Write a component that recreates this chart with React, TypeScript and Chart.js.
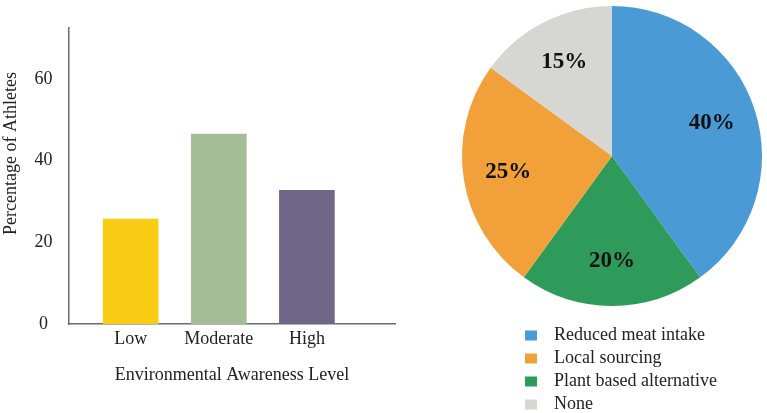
import React, { useEffect, useRef } from 'react';
import { Chart, registerables } from 'chart.js';

Chart.register(...registerables);

// ---- Bar chart data ----
const awarenessLevels = ['Low', 'Moderate', 'High'];
const athletePercent = [25.7, 46.5, 32.7];
const barColors = ['#F9CD16', '#A3BE97', '#6F6688'];
const yTickValues = [0, 20, 40, 60];

// ---- Pie chart data (clockwise from 12 o'clock) ----
const practiceLabels = ['Reduced meat intake', 'Plant based alternative', 'Local sourcing', 'None'];
const practiceShares = [40, 20, 25, 15];
const practiceColors = ['#4A9AD5', '#2E9B5B', '#F2A13A', '#D6D6D2'];
const legendOrder = ['Reduced meat intake', 'Local sourcing', 'Plant based alternative', 'None'];

const SERIF = '"Liberation Serif", "Times New Roman", Times, serif';
const TEXT = '#222222';
const AXIS = '#6b6b6b';

const yTitlePlugin = {
  id: 'yTitle',
  afterDraw(chart: any) {
    const ctx = chart.ctx;
    ctx.save();
    ctx.translate(15.5, 153.5);
    ctx.rotate(-Math.PI / 2);
    ctx.font = `18px ${SERIF}`;
    ctx.fillStyle = TEXT;
    ctx.textAlign = 'center';
    ctx.textBaseline = 'alphabetic';
    ctx.fillText('Percentage of Athletes', 0, 0);
    ctx.restore();
  },
};

const sliceLabelPlugin = {
  id: 'sliceLabels',
  afterDatasetsDraw(chart: any) {
    const ctx = chart.ctx;
    const meta = chart.getDatasetMeta(0);
    const values = chart.data.datasets[0].data;
    ctx.save();
    ctx.font = `bold 23px ${SERIF}`;
    ctx.fillStyle = '#111111';
    ctx.textAlign = 'center';
    ctx.textBaseline = 'middle';
    meta.data.forEach((arc: any, i: number) => {
      const p = arc.getProps(['x', 'y', 'startAngle', 'endAngle', 'outerRadius'], true);
      const mid = (p.startAngle + p.endAngle) / 2;
      const r = p.outerRadius * 0.7;
      ctx.fillText(`${values[i]}%`, p.x + Math.cos(mid) * r, p.y + Math.sin(mid) * r);
    });
    ctx.restore();
  },
};

const pieLegendPlugin = {
  id: 'pieLegend',
  afterDraw(chart: any) {
    const ctx = chart.ctx;
    const labels: string[] = chart.data.labels;
    const colors: string[] = chart.data.datasets[0].backgroundColor;
    ctx.save();
    ctx.font = `18px ${SERIF}`;
    ctx.textAlign = 'left';
    ctx.textBaseline = 'alphabetic';
    legendOrder.forEach((name, row) => {
      const idx = labels.indexOf(name);
      const baseline = 340 + row * 23;
      ctx.fillStyle = colors[idx];
      ctx.fillRect(85, baseline - 9.5, 12, 10);
      ctx.fillStyle = TEXT;
      ctx.fillText(name, 114, baseline);
    });
    ctx.restore();
  },
};

export default function App() {
  const barRef = useRef<HTMLCanvasElement>(null);
  const pieRef = useRef<HTMLCanvasElement>(null);

  useEffect(() => {
    const bar = new Chart(barRef.current as HTMLCanvasElement, {
      type: 'bar',
      data: {
        datasets: [
          {
            data: athletePercent.map((v, i) => ({ x: i, y: v })),
            backgroundColor: barColors,
            borderWidth: 0,
            barThickness: 55,
          },
        ],
      },
      options: {
        animation: false,
        responsive: false,
        devicePixelRatio: 1,
        layout: { padding: { left: 0, top: 24, right: 5, bottom: 0 } },
        plugins: { legend: { display: false }, tooltip: { enabled: false } },
        scales: {
          x: {
            type: 'linear',
            min: -0.7,
            max: 3,
            offset: false,
            grid: { display: false, drawTicks: false, offset: false },
            border: { display: true, color: AXIS, width: 1.5 },
            ticks: {
              stepSize: 1,
              includeBounds: false,
              autoSkip: false,
              maxRotation: 0,
              padding: 4,
              color: TEXT,
              font: { family: SERIF, size: 18 },
              callback: (v: any) => awarenessLevels[v as number] ?? '',
            },
            afterBuildTicks: (s: any) => {
              s.ticks = s.ticks.filter(
                (t: any) => Number.isInteger(t.value) && t.value >= 0 && t.value < awarenessLevels.length
              );
            },
            afterFit: (s: any) => {
              s.height = 89;
            },
            title: {
              display: true,
              text: 'Environmental Awareness Level',
              color: TEXT,
              font: { family: SERIF, size: 18 },
              padding: { top: 0, bottom: 27 },
            },
          },
          y: {
            min: 0,
            max: 72.6,
            grid: { display: false, drawTicks: false },
            border: { display: true, color: AXIS, width: 1.5 },
            ticks: {
              stepSize: 20,
              includeBounds: false,
              crossAlign: 'center',
              padding: 16.5,
              color: TEXT,
              font: { family: SERIF, size: 18 },
            },
            afterBuildTicks: (s: any) => {
              s.ticks = s.ticks.filter((t: any) => yTickValues.includes(t.value));
            },
            afterFit: (s: any) => {
              s.width = 69;
            },
          },
        },
      } as any,
      plugins: [yTitlePlugin],
    });

    const pie = new Chart(pieRef.current as HTMLCanvasElement, {
      type: 'pie',
      data: {
        labels: practiceLabels,
        datasets: [
          {
            data: practiceShares,
            backgroundColor: practiceColors,
            borderWidth: 0,
          },
        ],
      },
      options: {
        animation: false,
        responsive: false,
        devicePixelRatio: 1,
        layout: { padding: { left: 22, top: 6, right: 5, bottom: 107 } },
        plugins: { legend: { display: false }, tooltip: { enabled: false } },
      } as any,
      plugins: [sliceLabelPlugin, pieLegendPlugin],
    });

    return () => {
      bar.destroy();
      pie.destroy();
    };
  }, []);

  return (
    <div style={{ position: 'absolute', left: 0, top: 0, width: 767, height: 413, background: '#fff' }}>
      <canvas
        ref={barRef}
        width={400}
        height={413}
        style={{ position: 'absolute', left: 0, top: 0, width: 400, height: 413 }}
      />
      <canvas
        ref={pieRef}
        width={327}
        height={413}
        style={{ position: 'absolute', left: 440, top: 0, width: 327, height: 413 }}
      />
    </div>
  );
}
